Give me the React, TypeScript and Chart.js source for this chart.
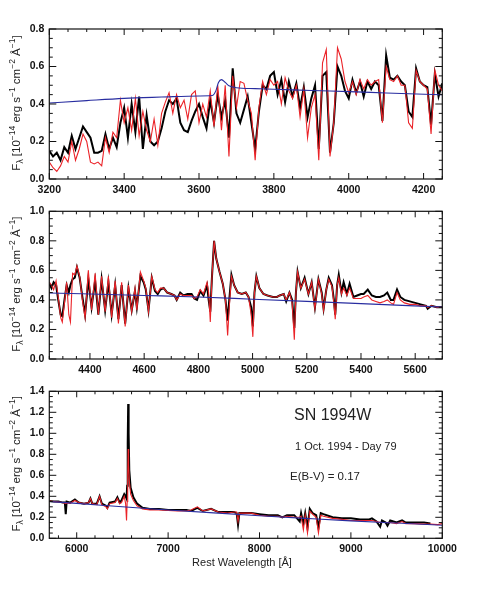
import React, { useEffect, useRef } from "react";
import { Chart, registerables } from "chart.js";
Chart.register(...registerables);

// ---------- Panel 1 (3200-4250 Å) ----------
const wave1 = [3200,3210,3220,3230,3240,3250,3260,3270,3280,3290,3300,3310,3320,3330,3340,3350,3360,3370,3380,3390,3400,3410,3420,3430,3440,3450,3460,3470,3480,3490,3500,3510,3520,3530,3540,3550,3560,3570,3580,3590,3600,3610,3620,3630,3640,3650,3660,3670,3680,3690,3700,3710,3720,3730,3740,3750,3760,3770,3780,3790,3800,3810,3820,3830,3840,3850,3860,3870,3880,3890,3900,3910,3920,3930,3940,3950,3960,3970,3980,3990,4000,4010,4020,4030,4040,4050,4060,4070,4080,4090,4100,4110,4120,4130,4140,4150,4160,4170,4180,4190,4200,4210,4220,4230,4240,4250];
const obs1 = [0.15,0.12,0.14,0.10,0.17,0.14,0.23,0.16,0.22,0.28,0.25,0.22,0.14,0.14,0.15,0.24,0.16,0.22,0.17,0.30,0.38,0.22,0.40,0.25,0.44,0.16,0.34,0.20,0.18,0.20,0.27,0.36,0.42,0.40,0.43,0.30,0.26,0.25,0.31,0.36,0.40,0.33,0.27,0.42,0.30,0.45,0.33,0.42,0.22,0.59,0.35,0.30,0.37,0.44,0.30,0.16,0.36,0.50,0.48,0.55,0.57,0.45,0.53,0.41,0.52,0.44,0.51,0.38,0.49,0.33,0.43,0.50,0.16,0.55,0.57,0.14,0.30,0.60,0.55,0.47,0.43,0.53,0.46,0.52,0.44,0.52,0.48,0.52,0.50,0.31,0.66,0.54,0.53,0.55,0.52,0.50,0.36,0.33,0.59,0.52,0.50,0.49,0.29,0.56,0.44,0.51];
const mod1 = [0.09,0.06,0.04,0.07,0.12,0.09,0.20,0.10,0.16,0.24,0.20,0.09,0.08,0.09,0.07,0.22,0.14,0.25,0.22,0.42,0.30,0.38,0.26,0.43,0.23,0.36,0.26,0.20,0.32,0.18,0.35,0.41,0.46,0.35,0.45,0.38,0.42,0.32,0.45,0.47,0.30,0.40,0.33,0.47,0.28,0.50,0.26,0.50,0.12,0.55,0.38,0.52,0.51,0.42,0.35,0.10,0.38,0.52,0.45,0.53,0.50,0.52,0.40,0.54,0.47,0.43,0.50,0.33,0.48,0.22,0.38,0.45,0.10,0.62,0.69,0.12,0.30,0.70,0.64,0.52,0.46,0.52,0.45,0.53,0.48,0.53,0.50,0.52,0.53,0.30,0.60,0.53,0.52,0.55,0.50,0.50,0.30,0.27,0.58,0.52,0.50,0.48,0.24,0.58,0.50,0.47];
const contWave1 = [3200,3300,3400,3500,3600,3635,3645,3652,3660,3670,3680,3700,3750,3800,3900,4000,4100,4250];
const cont1 = [0.405,0.418,0.43,0.437,0.443,0.445,0.47,0.515,0.53,0.515,0.497,0.487,0.482,0.479,0.472,0.466,0.459,0.449];
const xTicks1 = [3200,3400,3600,3800,4000,4200];
const yTicks1 = [0,0.2,0.4,0.6,0.8];

// ---------- Panel 2 (4250-5700 Å) ----------
const wave2 = [4250,4258,4266,4275,4283,4292,4298,4306,4314,4322,4328,4336,4344,4352,4362,4372,4382,4394,4406,4419,4431,4443,4456,4468,4480,4493,4505,4517,4530,4542,4554,4566,4573,4586,4598,4606,4616,4628,4640,4650,4660,4672,4685,4700,4712,4720,4733,4745,4760,4775,4785,4795,4807,4819,4832,4838,4844,4850,4858,4866,4878,4890,4900,4908,4914,4922,4932,4945,4960,4975,4985,4995,5001,5007,5014,5025,5040,5055,5075,5090,5100,5115,5124,5136,5146,5154,5160,5166,5178,5192,5206,5218,5230,5243,5255,5262,5272,5281,5293,5300,5305,5312,5318,5328,5336,5348,5358,5372,5386,5400,5410,5425,5440,5455,5470,5485,5497,5510,5520,5533,5545,5560,5580,5600,5620,5640,5646,5660,5680,5700];
const obs2 = [0.51,0.48,0.52,0.50,0.40,0.30,0.29,0.40,0.50,0.45,0.50,0.54,0.55,0.62,0.55,0.42,0.30,0.54,0.35,0.53,0.30,0.54,0.33,0.52,0.30,0.50,0.27,0.50,0.24,0.48,0.33,0.46,0.35,0.56,0.52,0.47,0.33,0.55,0.46,0.44,0.47,0.48,0.45,0.44,0.43,0.40,0.45,0.43,0.44,0.44,0.41,0.40,0.46,0.43,0.50,0.40,0.32,0.55,0.80,0.68,0.59,0.51,0.40,0.26,0.40,0.57,0.50,0.45,0.44,0.45,0.42,0.35,0.22,0.45,0.56,0.48,0.44,0.43,0.42,0.42,0.43,0.44,0.39,0.45,0.40,0.21,0.45,0.59,0.48,0.55,0.44,0.52,0.35,0.54,0.45,0.34,0.47,0.55,0.50,0.40,0.30,0.50,0.57,0.45,0.52,0.44,0.51,0.42,0.43,0.44,0.44,0.47,0.43,0.42,0.42,0.43,0.45,0.40,0.40,0.47,0.42,0.40,0.39,0.38,0.37,0.36,0.34,0.36,0.35,0.35];
const mod2 = [0.52,0.50,0.47,0.53,0.42,0.28,0.25,0.38,0.52,0.30,0.25,0.58,0.57,0.63,0.56,0.40,0.28,0.60,0.33,0.58,0.30,0.56,0.32,0.56,0.28,0.53,0.24,0.52,0.22,0.50,0.32,0.48,0.33,0.59,0.53,0.48,0.32,0.56,0.47,0.45,0.48,0.48,0.45,0.44,0.43,0.40,0.44,0.43,0.43,0.43,0.41,0.42,0.47,0.44,0.52,0.45,0.25,0.55,0.80,0.68,0.59,0.51,0.40,0.16,0.35,0.56,0.50,0.45,0.44,0.45,0.42,0.30,0.15,0.45,0.56,0.48,0.44,0.43,0.42,0.42,0.43,0.44,0.40,0.45,0.38,0.13,0.45,0.59,0.48,0.54,0.44,0.52,0.34,0.54,0.44,0.33,0.47,0.54,0.49,0.38,0.27,0.50,0.55,0.44,0.48,0.43,0.48,0.41,0.41,0.41,0.42,0.43,0.40,0.39,0.38,0.39,0.40,0.38,0.37,0.45,0.40,0.38,0.37,0.37,0.36,0.36,0.35,0.36,0.35,0.35];
const contWave2 = [4250,4600,4800,5000,5200,5400,5700];
const cont2 = [0.447,0.43,0.42,0.405,0.39,0.375,0.352];
const xTicks2 = [4400,4600,4800,5000,5200,5400,5600];
const yTicks2 = [0,0.2,0.4,0.6,0.8,1.0];

// ---------- Panel 3 (5700-10000 Å) ----------
const wave3 = [5700,5750,5800,5850,5870,5880,5890,5930,5980,6020,6080,6130,6150,6170,6220,6250,6275,6320,6335,6360,6420,6445,6470,6490,6520,6535,6545,6552,6558,6563,6568,6575,6590,6620,6660,6720,6800,6900,7000,7100,7200,7250,7320,7380,7470,7550,7650,7720,7750,7765,7780,7850,7910,8000,8100,8200,8250,8300,8380,8440,8455,8480,8500,8525,8550,8580,8620,8645,8670,8700,8800,8900,9000,9100,9200,9230,9280,9320,9340,9380,9400,9430,9500,9560,9600,9700,9800,9870,9950,10000];
const obs3 = [0.355,0.35,0.35,0.34,0.34,0.23,0.35,0.34,0.37,0.34,0.33,0.34,0.38,0.33,0.33,0.40,0.33,0.31,0.29,0.34,0.35,0.39,0.34,0.36,0.42,0.40,0.38,0.50,0.90,1.28,1.00,0.65,0.48,0.39,0.33,0.29,0.28,0.28,0.27,0.27,0.27,0.26,0.29,0.26,0.28,0.25,0.25,0.25,0.24,0.13,0.24,0.24,0.24,0.23,0.22,0.22,0.20,0.22,0.22,0.16,0.24,0.14,0.24,0.10,0.28,0.24,0.22,0.10,0.24,0.23,0.20,0.19,0.19,0.18,0.18,0.19,0.16,0.11,0.17,0.15,0.12,0.17,0.15,0.17,0.15,0.15,0.15,0.14,null,null];
const mod3 = [0.355,0.35,0.345,0.34,0.335,0.33,0.335,0.335,0.36,0.34,0.33,0.34,0.38,0.33,0.32,0.40,0.32,0.30,0.28,0.33,0.34,0.38,0.33,0.34,0.40,0.33,0.17,0.35,0.60,0.85,0.70,0.55,0.42,0.36,0.31,0.28,0.27,0.27,0.265,0.26,0.26,0.27,0.30,0.26,0.28,0.25,0.24,0.25,0.25,0.16,0.24,0.24,0.24,0.22,0.21,0.21,0.20,0.21,0.20,0.20,0.21,0.08,0.22,0.05,0.26,0.23,0.20,0.05,0.22,0.21,0.19,0.18,0.17,0.17,0.17,0.17,0.16,0.15,0.15,0.15,0.15,0.15,0.14,0.16,0.14,0.14,0.135,0.135,0.13,0.14];
const contWave3 = [5700,6000,6500,7000,7500,8000,8500,9000,9500,10000];
const cont3 = [0.35,0.333,0.30,0.27,0.242,0.215,0.19,0.166,0.145,0.125];
const xTicks3 = [6000,7000,8000,9000,10000];
const yTicks3 = [0,0.2,0.4,0.6,0.8,1.0,1.2,1.4];

const annoTitle = "SN 1994W";
const annoDate = "1 Oct. 1994 - Day 79";
const annoRed = "E(B-V) = 0.17";
const xTitle = "Rest Wavelength [Å]";

type Cfg = {
  wave: number[]; obs: (number | null)[]; mod: number[]; cw: number[]; cont: number[];
  xTicks: number[]; yTicks: number[];
  xMin: number; xMax: number; xMajor: number; xMinor: number;
  yMax: number; yMajor: number; yMinor: number;
  top: number; height: number; padTop: number; xAxisH: number; last?: boolean;
};

const panels: Cfg[] = [
  { wave: wave1, obs: obs1, mod: mod1, cw: contWave1, cont: cont1, xTicks: xTicks1, yTicks: yTicks1,
    xMin: 3200, xMax: 4250, xMajor: 200, xMinor: 50, yMax: 0.8, yMajor: 0.2, yMinor: 0.05,
    top: 0, height: 200, padTop: 29, xAxisH: 21 },
  { wave: wave2, obs: obs2, mod: mod2, cw: contWave2, cont: cont2, xTicks: xTicks2, yTicks: yTicks2,
    xMin: 4250, xMax: 5700, xMajor: 200, xMinor: 50, yMax: 1.0, yMajor: 0.2, yMinor: 0.05,
    top: 200, height: 180, padTop: 8.3, xAxisH: 21 },
  { wave: wave3, obs: obs3, mod: mod3, cw: contWave3, cont: cont3, xTicks: xTicks3, yTicks: yTicks3,
    xMin: 5700, xMax: 10000, xMajor: 1000, xMinor: 200, yMax: 1.4, yMajor: 0.2, yMinor: 0.05,
    top: 380, height: 219, padTop: 8.3, xAxisH: 60.7, last: true },
];

const FONT = '"Liberation Sans", Arial, Helvetica, sans-serif';

function makeFrame(cfg: Cfg) {
  return {
    id: "frame",
    afterDraw(chart: any) {
      const { ctx, chartArea: a } = chart;
      const xs = chart.scales.x, ys = chart.scales.y;
      ctx.save();
      ctx.strokeStyle = "#111";
      ctx.lineWidth = 1.2;
      ctx.strokeRect(a.left, a.top, a.right - a.left, a.bottom - a.top);
      ctx.lineWidth = 1;
      ctx.beginPath();
      const k0 = Math.ceil(cfg.xMin / cfg.xMinor - 1e-9);
      const k1 = Math.floor(cfg.xMax / cfg.xMinor + 1e-9);
      for (let k = k0; k <= k1; k++) {
        const v = k * cfg.xMinor;
        const major = v % cfg.xMajor === 0;
        const L = major ? 6 : 3;
        const px = xs.getPixelForValue(v);
        ctx.moveTo(px, a.bottom); ctx.lineTo(px, a.bottom - L);
        ctx.moveTo(px, a.top); ctx.lineTo(px, a.top + L);
      }
      const m = Math.round(cfg.yMax / cfg.yMinor);
      const per = Math.round(cfg.yMajor / cfg.yMinor);
      for (let k = 0; k <= m; k++) {
        const v = k * cfg.yMinor;
        const L = k % per === 0 ? 7 : 3.5;
        const py = ys.getPixelForValue(v);
        ctx.moveTo(a.left, py); ctx.lineTo(a.left + L, py);
        ctx.moveTo(a.right, py); ctx.lineTo(a.right - L, py);
      }
      ctx.stroke();

      // y-axis title with super/subscripts
      const segs: [string, string][] = [
        ["F", "n"], ["λ", "sub"], [" [10", "n"], ["−14", "sup"], [" erg s", "n"], ["−1", "sup"],
        [" cm", "n"], ["−2", "sup"], [" Å", "n"], ["−1", "sup"], ["]", "n"],
      ];
      const mainF = `11.5px ${FONT}`, smallF = `8.5px ${FONT}`;
      let total = 0;
      for (const [t, s] of segs) { ctx.font = s === "n" ? mainF : smallF; total += ctx.measureText(t).width; }
      ctx.translate(19.5, (a.top + a.bottom) / 2 - 1);
      ctx.rotate(-Math.PI / 2);
      ctx.fillStyle = "#222";
      ctx.textBaseline = "alphabetic";
      ctx.textAlign = "left";
      let cx = -total / 2;
      for (const [t, s] of segs) {
        ctx.font = s === "n" ? mainF : smallF;
        const dy = s === "sup" ? -5 : s === "sub" ? 3 : 0;
        ctx.fillText(t, cx, dy);
        cx += ctx.measureText(t).width;
      }
      ctx.setTransform(1, 0, 0, 1, 0, 0);

      if (cfg.last) {
        ctx.fillStyle = "#222";
        ctx.textAlign = "left";
        ctx.font = `16px ${FONT}`;
        ctx.fillText(annoTitle, 294, 40);
        ctx.font = `11px ${FONT}`;
        ctx.fillText(annoDate, 295, 70);
        ctx.font = `11.5px ${FONT}`;
        ctx.fillText(annoRed, 290, 100);
        ctx.font = `11px ${FONT}`;
        ctx.textAlign = "center";
        ctx.fillText(xTitle, 242, 186);
      }
      ctx.restore();
    },
  };
}

function Panel({ cfg }: { cfg: Cfg }) {
  const ref = useRef<HTMLCanvasElement>(null);
  useEffect(() => {
    const tickFont = { family: FONT, size: 10.5, weight: "bold" as const };
    const chart = new Chart(ref.current!, {
      type: "line",
      data: {
        datasets: [
          { data: cfg.cw.map((w, i) => ({ x: w, y: cfg.cont[i] })), borderColor: "rgb(40,45,160)", borderWidth: 1.1, pointRadius: 0, cubicInterpolationMode: "monotone" },
          { data: cfg.wave.map((w, i) => ({ x: w, y: cfg.mod[i] })), borderColor: "rgb(235,35,40)", borderWidth: 1.1, pointRadius: 0 },
          { data: cfg.wave.map((w, i) => ({ x: w, y: cfg.obs[i] })), borderColor: "#000", borderWidth: 2, pointRadius: 0, spanGaps: false },
        ] as any,
      },
      options: {
        animation: false,
        responsive: false,
        devicePixelRatio: 1,
        layout: { padding: { top: cfg.padTop, right: 48.7, left: 0, bottom: 0 } },
        plugins: { legend: { display: false }, tooltip: { enabled: false } },
        elements: { line: { tension: 0 } },
        scales: {
          x: {
            type: "linear", min: cfg.xMin, max: cfg.xMax,
            grid: { display: false, drawTicks: false }, border: { display: false },
            afterBuildTicks: (s: any) => { s.ticks = cfg.xTicks.map((v) => ({ value: v })); },
            afterFit: (s: any) => { s.height = cfg.xAxisH; },
            ticks: { padding: 5, autoSkip: false, maxRotation: 0, color: "#111", font: tickFont, callback: (v: any) => String(v) },
          },
          y: {
            type: "linear", min: 0, max: cfg.yMax,
            grid: { display: false, drawTicks: false }, border: { display: false },
            afterBuildTicks: (s: any) => { s.ticks = cfg.yTicks.map((v) => ({ value: v })); },
            afterFit: (s: any) => { s.width = 49.3; },
            ticks: { padding: 5, autoSkip: false, color: "#111", font: tickFont, callback: (v: any) => Number(v).toFixed(1) },
          },
        },
      } as any,
      plugins: [makeFrame(cfg)],
    });
    return () => chart.destroy();
  }, []);
  return (
    <div style={{ position: "absolute", left: 0, top: cfg.top, width: 491, height: cfg.height }}>
      <canvas ref={ref} width={491} height={cfg.height} style={{ width: 491, height: cfg.height, display: "block" }} />
    </div>
  );
}

export default function App() {
  return (
    <div style={{ position: "absolute", left: 0, top: 0, width: 491, height: 599, background: "#fff" }}>
      {panels.map((p, i) => <Panel key={i} cfg={p} />)}
    </div>
  );
}
